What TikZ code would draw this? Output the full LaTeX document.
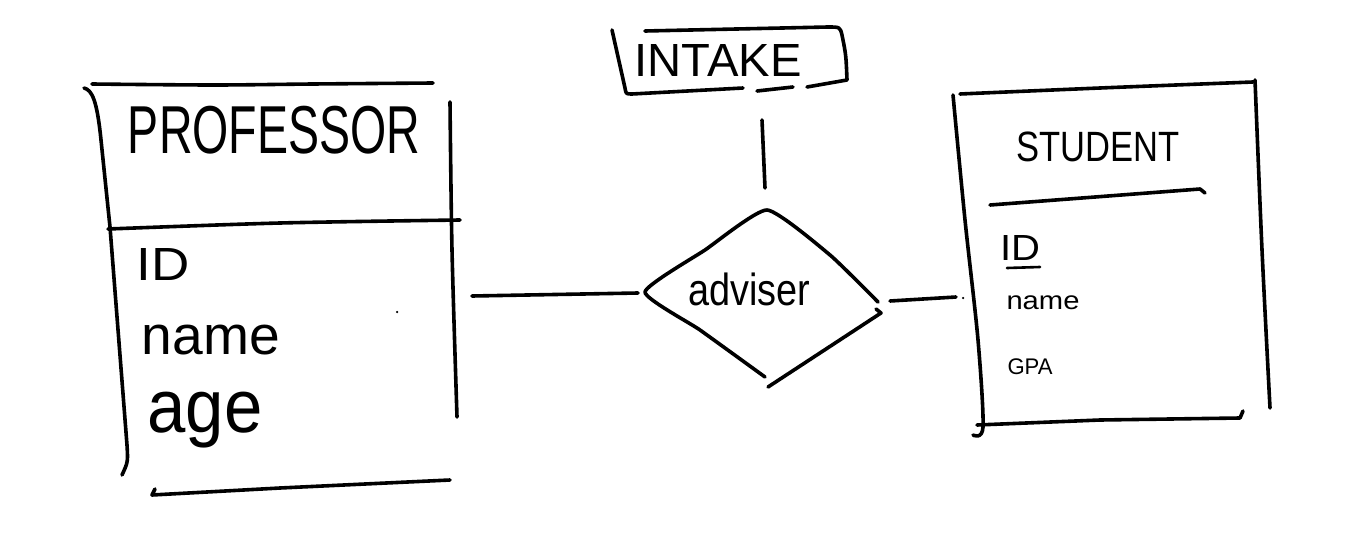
\documentclass[tikz,border=0pt]{standalone}
\usepackage{fontspec}
\setmainfont{Liberation Sans}
\newcommand\fitlabel[3]{\resizebox*{#1pt}{#2pt}{#3}}
\begin{document}
\begin{tikzpicture}[x=1pt,y=-1pt,
  pen/.style={line width=3.6pt,line cap=round,line join=round},
  finepen/.style={line width=2.6pt,line cap=round,line join=round},
  lbl/.style={inner sep=0pt,outer sep=0pt},
  speck/.style={fill=black,draw=none,circle,inner sep=0pt,minimum size=2.5pt}]
\useasboundingbox[fill=white] (0,0) rectangle (1367,535);

% ---------- PROFESSOR entity ----------
\draw[pen] (84,88) .. controls (92,90) and (97,100) .. (101,140)
  -- (110,227) -- (127,445) .. controls (128,462) .. (122,475);
\draw[pen] plot[smooth] coordinates {(92,84) (213,85) (313,84) (433,83)};
\draw[pen] plot[smooth] coordinates {(450,102) (452,250) (457,417)};
\draw[pen] plot[smooth] coordinates {(108,229) (280,223) (460,220)};
\draw[pen] (155,489) -- (152,495) -- (280,488) -- (450,480);
\node[speck] (profdot) at (397,312) {};
\node[lbl] (profname) at (274,130) {\fitlabel{292}{48}{PROFESSOR}};
\node[lbl] (profid) at (163,264) {\fitlabel{53}{32}{ID}};
\node[lbl] (profnm) at (211,340) {\fitlabel{138}{30}{name}};
\node[lbl] (profage) at (205,420) {\fitlabel{115}{56}{age}};
\coordinate (profE) at (472,296);

% ---------- INTAKE attribute ----------
\draw[pen] (612,30) -- (625,88) .. controls (626,94) .. (632,94) -- (743,88);
\draw[pen] (757,91) -- (793,87);
\draw[pen] (807,87) -- (847,80) .. controls (846,55) .. (842,35)
  .. controls (840,27) .. (828,27) -- (645,31);
\node[lbl] (intake) at (718,60) {\fitlabel{167}{32}{INTAKE}};
\coordinate (intakeS) at (762,120);

% ---------- adviser relationship ----------
\draw[pen] plot[smooth,tension=0.3] coordinates {(765,377) (700,330) (645,292) (705,250) (767,210) (830,255) (878,302)};
\draw[pen] (876,309) -- (881,313) -- (768,387);
\node[lbl] (adviser) at (749,289) {\fitlabel{122}{33}{adviser}};
\coordinate (advN) at (765,188);
\coordinate (advW) at (638,293);
\coordinate (advE) at (890,301);

% ---------- STUDENT entity ----------
\draw[pen] plot[smooth] coordinates {(960,94) (1100,88) (1253,82)};
\draw[pen] plot[smooth] coordinates {(953,95) (965,220) (978,340) (983,427) (973,435)};
\draw[pen] (977,425) -- (1100,420) -- (1240,418) -- (1243,411);
\draw[pen] plot[smooth] coordinates {(1255,80) (1262,250) (1270,408)};
\draw[pen] (990,205) -- (1200,189) -- (1205,193);
\node[lbl] (stuname) at (1098,147) {\fitlabel{163}{30}{STUDENT}};
\node[lbl] (stuid) at (1020,248) {\fitlabel{40}{25}{ID}};
\draw[finepen] (1007,268) -- (1040,267);
\node[lbl] (stunm) at (1043,303) {\fitlabel{73}{14}{name}};
\node[lbl] (stugpa) at (1030,367) {\fitlabel{45}{16}{GPA}};
\coordinate (stuW) at (956,297);
\node[speck] (studot) at (963,298) {};

% ---------- connectors ----------
\draw[pen] (profE) -- (advW);
\draw[pen] (advE) -- (stuW);
\draw[pen] (intakeS) -- (advN);
\end{tikzpicture}
\end{document}
